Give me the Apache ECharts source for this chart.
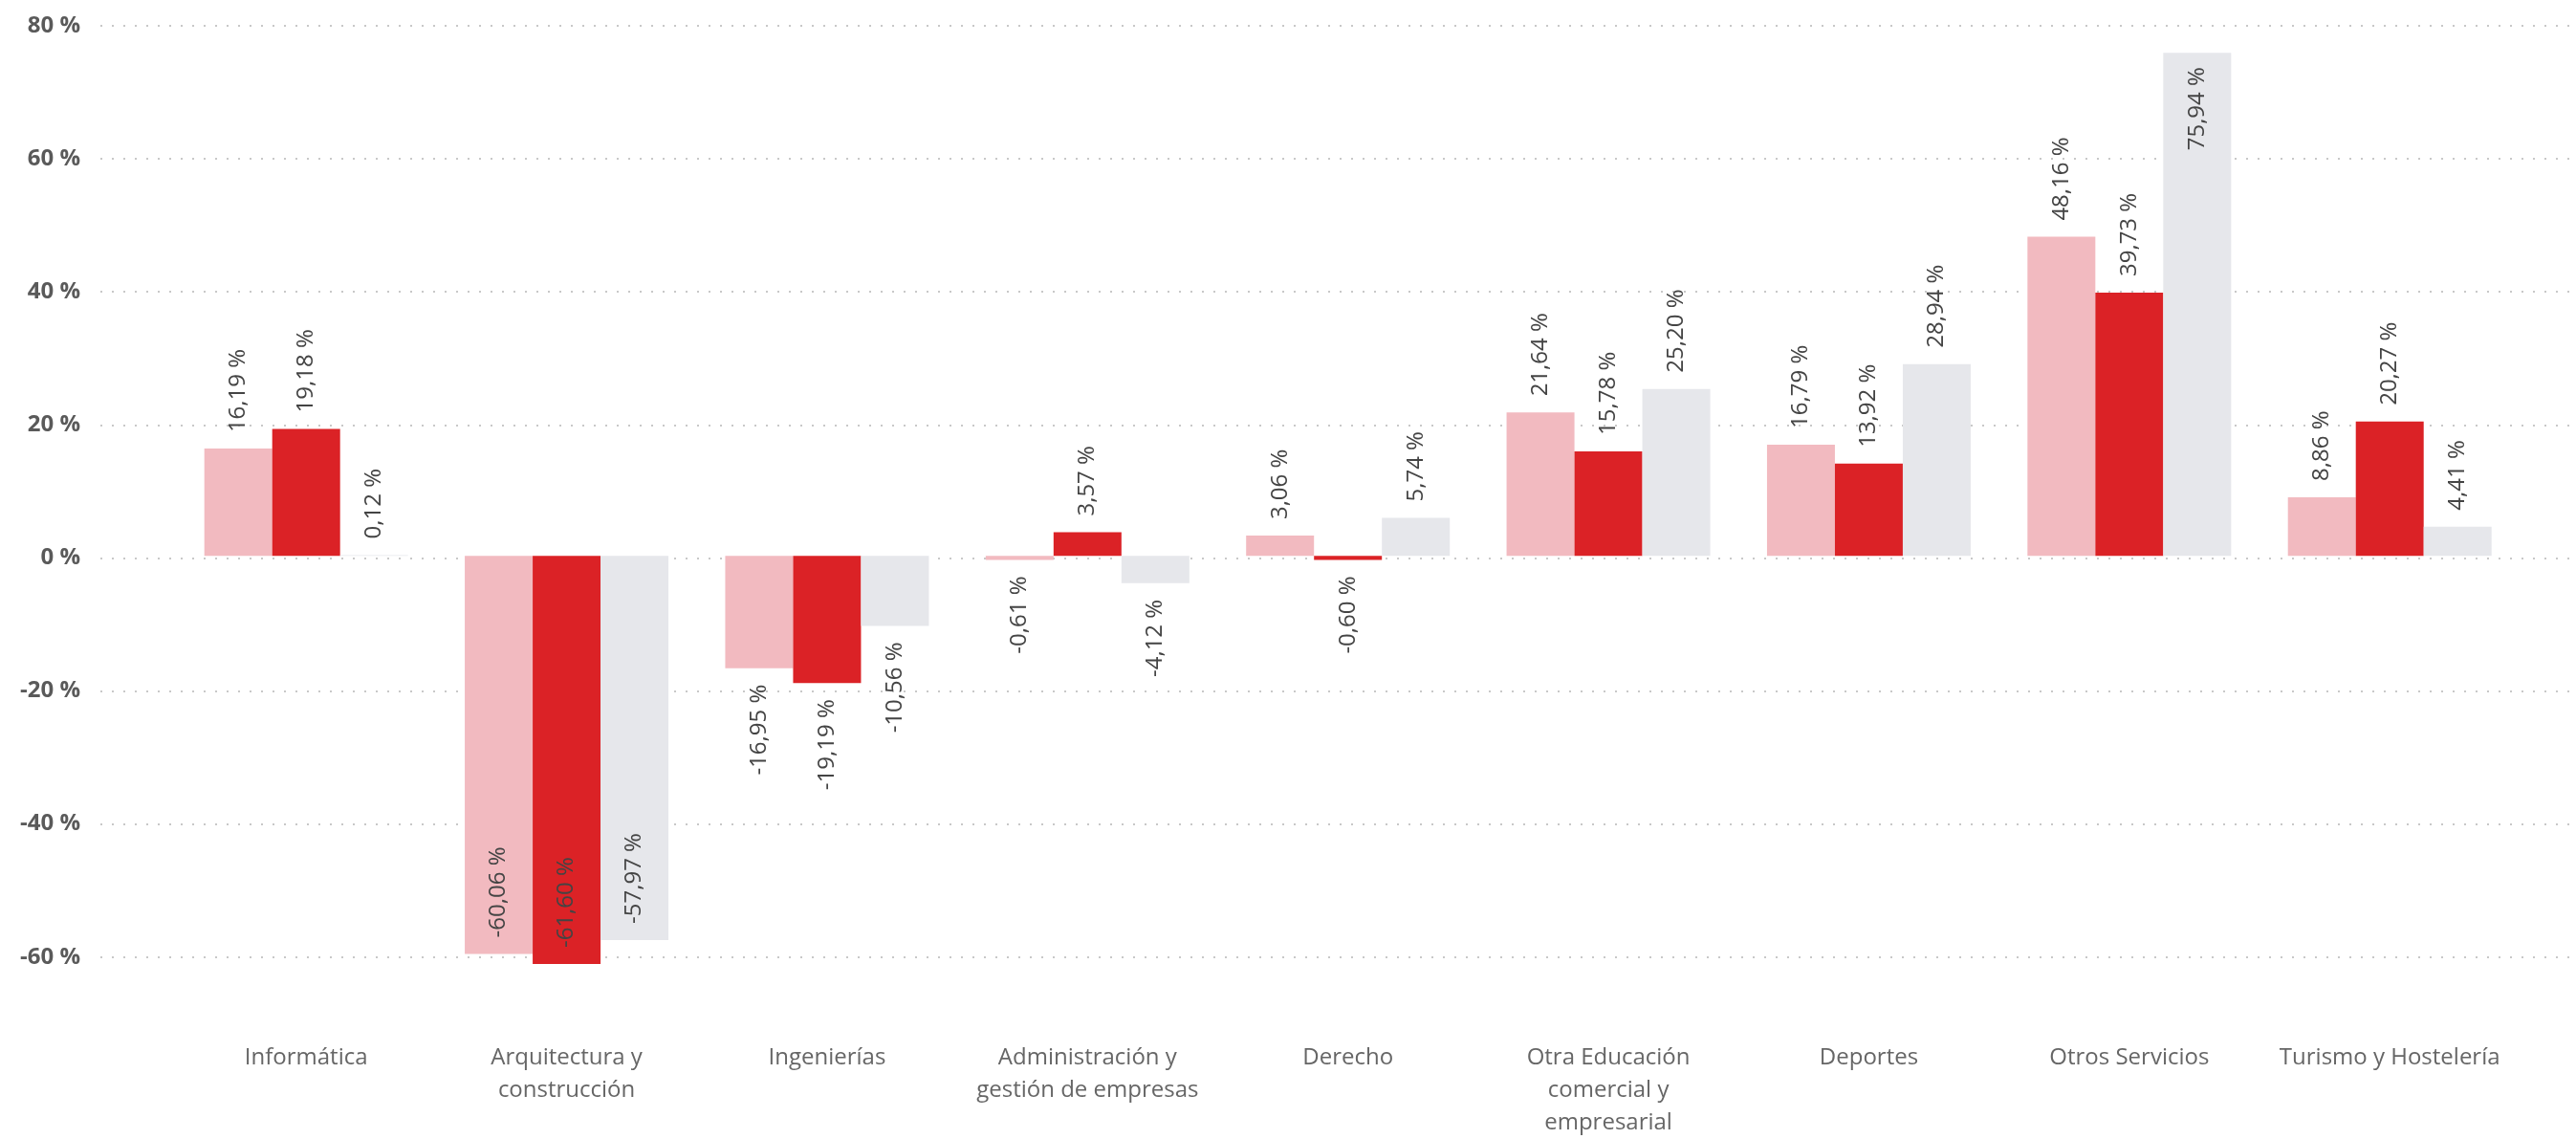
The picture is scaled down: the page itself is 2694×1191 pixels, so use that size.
<!DOCTYPE html>
<html>
<head>
<meta charset="utf-8">
<script src="https://cdn.jsdelivr.net/npm/echarts@6/dist/echarts.min.js"></script>
<style>
html,body{margin:0;padding:0;background:#fff;}
#chart{width:2694px;height:1191px;}
</style>
</head>
<body>
<div id="chart"></div>
<script>
const categories = [
  "Informática",
  "Arquitectura y\nconstrucción",
  "Ingenierías",
  "Administración y\ngestión de empresas",
  "Derecho",
  "Otra Educación\ncomercial y\nempresarial",
  "Deportes",
  "Otros Servicios",
  "Turismo y Hostelería"
];
const seriesPink = [16.19, -60.06, -16.95, -0.61, 3.06, 21.64, 16.79, 48.16, 8.86];
const seriesRed  = [19.18, -61.60, -19.19, 3.57, -0.60, 15.78, 13.92, 39.73, 20.27];
const seriesGray = [0.12, -57.97, -10.56, -4.12, 5.74, 25.20, 28.94, 75.94, 4.41];
const yTicks = { min: -60, max: 80, interval: 20 };

const FONT = "'Segoe UI', 'Open Sans', sans-serif";
const fmt = v => v.toFixed(2).replace('.', ',') + ' %';

function items(arr) {
  return arr.map(v => {
    let label;
    const base = { show: true, rotate: 90, verticalAlign: 'middle', distance: 17,
      color: '#444', fontSize: 24, fontFamily: FONT, formatter: p => fmt(p.value) };
    if (v >= 0) {
      if (v > 62) label = Object.assign({}, base, { position: 'insideTop', align: 'right', distance: 15 });
      else label = Object.assign({}, base, { position: 'top', align: 'left' });
    } else {
      if (v < -45) label = Object.assign({}, base, { position: 'insideBottom', align: 'left' });
      else label = Object.assign({}, base, { position: 'bottom', align: 'right' });
    }
    return { value: v, label: label };
  });
}

const chart = echarts.init(document.getElementById('chart'));
const gridTop = 27, gridBottom = 190.3;
const option = {
  backgroundColor: '#fff',
  animation: false,
  grid: [
    { left: 105, right: 6, top: gridTop, bottom: gridBottom },
    { left: 184, right: 58.6, top: gridTop, bottom: gridBottom }
  ],
  xAxis: [
    { gridIndex: 0, type: 'value', show: false, min: 0, max: 1 },
    { gridIndex: 1, type: 'category', data: categories,
      axisLine: { show: false }, axisTick: { show: false },
      axisLabel: { margin: 92, color: '#666', fontSize: 24, fontFamily: FONT, lineHeight: 34, interval: 0 } }
  ],
  yAxis: [
    { gridIndex: 0, type: 'value', min: yTicks.min, max: yTicks.max, interval: yTicks.interval,
      axisLine: { show: false }, axisTick: { show: false },
      axisLabel: { margin: 21, color: '#5a5a5a', fontSize: 24, fontWeight: 'bold', fontFamily: FONT,
        formatter: v => v + ' %' },
      splitLine: { show: true, lineStyle: { color: '#c8c8c8', width: 2, type: [2, 10] } } },
    { gridIndex: 1, type: 'value', min: yTicks.min, max: yTicks.max, interval: yTicks.interval,
      show: false, splitLine: { show: false } }
  ],
  series: [
    { type: 'bar', xAxisIndex: 1, yAxisIndex: 1, data: items(seriesPink), barWidth: 71, barGap: '0%',
      itemStyle: { color: '#F2BAC0' }, clip: false },
    { type: 'bar', xAxisIndex: 1, yAxisIndex: 1, data: items(seriesRed), barWidth: 71, barGap: '0%',
      itemStyle: { color: '#DB2226' }, clip: false },
    { type: 'bar', xAxisIndex: 1, yAxisIndex: 1, data: items(seriesGray), barWidth: 71, barGap: '0%',
      itemStyle: { color: '#E6E7EB' }, clip: false }
  ]
};
chart.setOption(option);
</script>
</body>
</html>
